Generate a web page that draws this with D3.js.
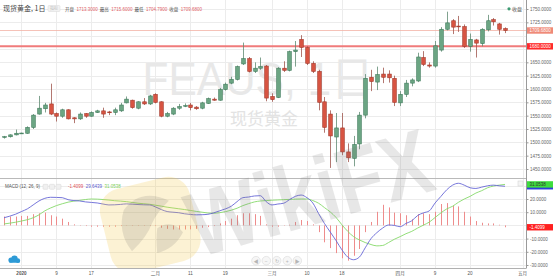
<!DOCTYPE html>
<html><head><meta charset="utf-8">
<script src="https://cdn.jsdelivr.net/npm/d3@7/dist/d3.min.js"></script>
<style>
html,body{margin:0;padding:0;background:#fff;overflow:hidden;}
svg{display:block;font-family:"Liberation Sans",Arial,"Noto Sans CJK SC",sans-serif;}
</style>
</head><body>
<svg id="chart" width="553" height="278"></svg>
<script>
// ---------------- data ----------------
const title = "现货黄金, 1日";
const watermark1 = "FEAUS, 1日";
const watermark2 = "现货黄金";
const dates = [
"2019-12-27","2019-12-30","2019-12-31",
"2020-01-01","2020-01-02","2020-01-03","2020-01-06","2020-01-07","2020-01-08","2020-01-09","2020-01-10",
"2020-01-13","2020-01-14","2020-01-15","2020-01-16","2020-01-17","2020-01-20","2020-01-21","2020-01-22",
"2020-01-23","2020-01-24","2020-01-27","2020-01-28","2020-01-29","2020-01-30","2020-01-31",
"2020-02-03","2020-02-04","2020-02-05","2020-02-06","2020-02-07","2020-02-10","2020-02-11","2020-02-12",
"2020-02-13","2020-02-14","2020-02-17","2020-02-18","2020-02-19","2020-02-20","2020-02-21","2020-02-24",
"2020-02-25","2020-02-26","2020-02-27","2020-02-28",
"2020-03-02","2020-03-03","2020-03-04","2020-03-05","2020-03-06","2020-03-09","2020-03-10","2020-03-11",
"2020-03-12","2020-03-13","2020-03-16","2020-03-17","2020-03-18","2020-03-19","2020-03-20","2020-03-23",
"2020-03-24","2020-03-25","2020-03-26","2020-03-27","2020-03-30","2020-03-31",
"2020-04-01","2020-04-02","2020-04-03","2020-04-06","2020-04-07","2020-04-08","2020-04-09","2020-04-13",
"2020-04-14","2020-04-15","2020-04-16","2020-04-17","2020-04-20","2020-04-21","2020-04-22","2020-04-23",
"2020-04-24","2020-04-27","2020-04-28"];
const futureDates = ["2020-04-29","2020-04-30","2020-05-01"];

const open = [1510,1510.5,1514,1517,1517,1528,1553,1563,1572,1554,
1549,1561,1546,1544,1554,1549,1556,1559,1557,1556,
1559,1574,1579,1564,1576,1572,1590,1576,1549,1553,
1564,1568,1570,1566,1564,1573,1581,1579,1599,1611,
1618,1647,1657,1633,1639,1643,1586,1584,1639,1635,
1670,1693,1678,1648,1633,1576,1553,1510,1527,1482,
1470,1497,1551,1622,1613,1628,1628,1620,1574,1590,
1611,1615,1659,1645,1643,1673,1712,1728,1718,1717,
1680,1692,1685,1711,1730,1722,1713.3];
const high = [1512,1515,1524,1518,1530,1553,1587,1574,1610,1556,
1563,1562,1547,1556,1555,1558,1561,1565,1559,1565,
1574,1586,1580,1577,1583,1589,1592,1577,1557,1566,
1572,1573,1574,1568,1576,1584,1584,1602,1612,1623,
1644,1687,1660,1650,1659,1645,1592,1641,1652,1672,
1690,1701,1680,1652,1636,1585,1560,1555,1555,1498,
1512,1557,1628,1636,1642,1640,1635,1625,1596,1617,
1620,1668,1671,1650,1690,1716,1745,1731,1737,1721,
1704,1694,1714,1739,1733,1724,1715.6];
const low = [1507,1509,1513,1516.5,1516,1525,1552,1556,1551,1539,
1546,1543,1536,1542,1546,1548,1555,1546,1551,1551,
1557,1573,1563,1562,1570,1570,1573,1547,1547,1551,
1561,1566,1560,1561,1562,1572,1578,1578,1597,1609,
1616,1645,1631,1630,1636,1577,1576,1583,1632,1633,
1642,1660,1645,1630,1560,1518,1452,1463,1476,1463,
1455,1487,1545,1596,1598,1611,1612,1568,1568,1585,
1605,1613,1643,1640,1640,1670,1710,1703,1707,1677,
1670,1659,1680,1708,1719,1702,1704.79];
const close = [1510.6,1514,1517,1517.4,1528,1551,1564,1570,1553,1549,
1561,1544,1544,1553,1549,1556,1559,1553,1556.5,1561,
1570,1581,1565,1576,1572,1587,1575,1549,1554,1564,
1567,1569,1565,1563,1574,1582,1579,1599,1609,1618,
1642,1657,1633,1639,1642,1583,1580,1639,1635,1670,
1673,1678,1648,1633,1575,1528,1512,1527,1482,1471,
1496,1551,1620,1614,1627,1622,1621,1575,1590,1611,
1617,1660,1646,1643,1681,1712,1724,1716,1717,1680,
1693,1686,1712,1728,1726,1712,1709.68];

const dif = [5.8,7.0,8.5,10.5,12.5,15.5,18.5,20.5,21.3,21.2,
21.0,19.5,18.8,18.5,17.8,17.4,17.0,16.2,15.5,15.6,
15.9,16.3,16.1,15.8,15.6,15.5,14.0,12.0,10.5,10.0,
9.6,8.8,8.3,8.0,8.1,8.4,9.5,11.0,12.5,14.5,
18.0,21.0,21.5,22.3,22.5,18.0,15.5,16.2,16.8,19.5,
22.0,23.0,21.0,17.0,9.0,1.5,-5.0,-11.5,-18.5,-24.0,
-26.0,-24.0,-17.0,-10.0,-5.5,-2.0,0.3,0.0,-1.0,1.5,
3.5,7.5,9.5,11.0,17.0,22.0,27.0,30.5,31.9,30.5,
28.5,28.0,29.0,30.0,30.5,30.0,29.6439];
const dea = [1.1,1.7,2.4,3.3,4.3,5.8,8.0,11.0,13.2,15.0,
16.4,17.6,18.4,19.0,19.6,20.0,19.9,19.6,19.2,18.7,
18.4,18.0,17.4,16.8,16.4,16.0,15.3,14.6,13.8,13.2,
12.6,12.0,11.3,10.6,10.0,9.4,9.2,9.6,10.4,11.5,
13.0,15.0,16.5,17.8,18.5,18.8,19.1,19.3,19.5,19.7,
19.9,20.0,20.0,18.8,16.8,13.5,10.2,6.0,0.5,-4.5,
-8.5,-11.0,-13.0,-14.5,-15.5,-15.2,-13.0,-10.5,-8.5,-6.3,
-4.5,-2.0,0.2,2.5,6.0,9.5,12.5,14.5,17.5,20.0,
22.0,24.5,26.3,28.5,29.8,30.5,31.0538];
const hist = [6.7,6.7,6.7,7.2,7.2,8.5,9.2,9.7,7.7,6.7,
5.1,2.6,0.8,0.3,-0.5,-1.0,-1.0,-1.0,-1.0,-1.0,
-0.5,0.2,0.3,0.3,0.3,0.3,-0.5,-1.8,-2.6,-3.1,
-3.1,-3.1,-3.0,-2.6,-1.8,-1.3,-0.5,1.5,3.3,5.1,
7.7,9.2,9.2,8.5,7.2,0.8,-1.0,-1.0,0.3,0.5,
2.6,4.1,3.3,0.8,-5.1,-12.8,-17.2,-21.0,-24.9,-26.7,
-23.0,-17.9,-5.1,2.6,10.3,15.6,13.6,9.7,9.2,7.7,
4.6,8.5,9.2,8.5,10.3,16.2,16.9,14.9,14.4,10.3,
6.7,3.3,2.0,1.5,1.5,0.5,-1.4099];

const priceTicks = [1450,1475,1500,1525,1550,1575,1600,1625,1650,1675,1700,1725,1750];
const macdTicks = [-30,-20,-10,0,10,20,30];
const xTickDates = ["2020-01-01","2020-01-09","2020-01-17","2020-02-03","2020-02-11","2020-02-19",
"2020-03-02","2020-03-10","2020-03-18","2020-04-01","2020-04-09","2020-04-20","2020-05-01"];
const xTickLabels = ["2020","9","17","二月","11","19","三月","10","18","四月","9","20","五月"];
const hLevel = 1680;
const ohlcLabels = ["开盘","最高","最低","收盘"];
const macdTitle = "MACD (12, 26, 9)";

// ---------------- layout ----------------
const W = 553, H = 278;
const plotR = 526, sepY = 178, botY = 268;
const svg = d3.select("#chart");
const allDates = dates.concat(futureDates);
const x = d3.scalePoint().domain(allDates).range([4, 522.5]);
const y = d3.scaleLinear().domain([1450, 1750]).range([169, 9]);
const ym = d3.scaleLinear().domain([-30, 20]).range([265, 199]);
const last = dates.length - 1;
const upFill = "#6ba583", upLine = "#3e7a5a", dnFill = "#d75442", dnLine = "#a2392b";

svg.append("rect").attr("width", W).attr("height", H).attr("fill", "#fff");

const defs = svg.append("defs");
defs.append("clipPath").attr("id","cm").append("rect").attr("x",0).attr("y",0).attr("width",plotR).attr("height",sepY);
defs.append("clipPath").attr("id","cd").append("rect").attr("x",0).attr("y",sepY).attr("width",plotR).attr("height",botY-sepY);
defs.append("clipPath").attr("id","call").append("rect").attr("x",0).attr("y",0).attr("width",plotR).attr("height",botY);

// grid
const grid = svg.append("g").attr("stroke", "#ececec").attr("stroke-width", 1);
xTickDates.forEach(d => {
  const px = Math.round(x(d)) + 0.5;
  grid.append("line").attr("x1", px).attr("x2", px).attr("y1", 0).attr("y2", botY);
});
priceTicks.forEach(t => {
  const py = Math.round(y(t)) + 0.5;
  grid.append("line").attr("x1", 0).attr("x2", plotR).attr("y1", py).attr("y2", py);
});
macdTicks.forEach(t => {
  const py = Math.round(ym(t)) + 0.5;
  if (py > sepY && py < botY) grid.append("line").attr("x1", 0).attr("x2", plotR).attr("y1", py).attr("y2", py);
});

// watermarks (text)
const wm = svg.append("g").attr("clip-path","url(#cm)");
wm.append("text").attr("x", 258).attr("y", 95).attr("text-anchor","middle")
  .attr("font-size", 46).attr("fill", "#e8e8e8").attr("textLength", 231).attr("lengthAdjust","spacingAndGlyphs")
  .text(watermark1);
wm.append("text").attr("x", 264).attr("y", 125).attr("text-anchor","middle")
  .attr("font-family","'Noto Sans CJK SC',sans-serif")
  .attr("font-size", 17).attr("fill", "#e3e3e3").text(watermark2);

// horizontal lines
const mainG = svg.append("g").attr("clip-path","url(#cm)");
mainG.append("line").attr("x1",0).attr("x2",plotR).attr("y1",y(close[last])).attr("y2",y(close[last]))
  .attr("stroke","#f2b2a6").attr("stroke-width",0.8);
mainG.append("line").attr("x1",0).attr("x2",plotR).attr("y1",y(hLevel)).attr("y2",y(hLevel))
  .attr("stroke","#f07b7b").attr("stroke-width",2);

// candles
const cg = mainG.append("g");
dates.forEach((d, i) => {
  const up = close[i] >= open[i];
  const cx = Math.round(x(d)) + 0.5;
  cg.append("line").attr("x1",cx).attr("x2",cx).attr("y1",y(high[i])).attr("y2",y(low[i]))
    .attr("stroke", up ? "#5f8a72" : "#a0564c").attr("stroke-width",0.8);
  const top = y(Math.max(open[i], close[i])), bot = y(Math.min(open[i], close[i]));
  cg.append("rect").attr("x", cx - 1.8).attr("y", top).attr("width", 3.6).attr("height", Math.max(0.8, bot - top))
    .attr("fill", up ? upFill : dnFill).attr("stroke", up ? upLine : dnLine).attr("stroke-width", 0.6);
});

// header
const hdr = svg.append("g");
hdr.append("text").attr("x", 3).attr("y", 11).attr("font-size", 7).attr("fill", "#444")
  .attr("font-family","'Noto Sans CJK SC','Liberation Sans',sans-serif").text(title);
hdr.append("rect").attr("x", 48).attr("y", 5.5).attr("width", 12).attr("height", 6).attr("rx",1)
  .attr("fill", "#f2f2f2").attr("stroke","#d8d8d8").attr("stroke-width",0.5);
hdr.append("text").attr("x", 54).attr("y", 10).attr("text-anchor","middle").attr("font-size",4).attr("fill","#bbb").text("指标");
const vals = [open[last], high[last], low[last], close[last]];
let hx = 65;
ohlcLabels.forEach((lab, k) => {
  const t1 = hdr.append("text").attr("x", hx).attr("y", 10.5).attr("font-size", 4.5).attr("fill", "#555")
    .attr("font-family","'Noto Sans CJK SC',sans-serif").text(lab);
  hx += t1.node().getComputedTextLength() + 2.5;
  const t2 = hdr.append("text").attr("x", hx).attr("y", 10.5).attr("font-size", 4.5).attr("fill", "#e0646a")
    .text(vals[k].toFixed(4));
  hx += t2.node().getComputedTextLength() + 2;
});

// legend
svg.append("circle").attr("cx", 509).attr("cy", 8.8).attr("r", 1.6).attr("fill", "#3c9a72");
svg.append("text").attr("x", 512).attr("y", 10.6).attr("font-size", 5).attr("fill", "#555")
  .attr("font-family","'Noto Sans CJK SC',sans-serif").text("收盘");

// MACD panel
const md = svg.append("g").attr("clip-path","url(#cd)");
dates.forEach((d, i) => {
  const cx = Math.round(x(d)) + 0.5;
  md.append("line").attr("x1",cx).attr("x2",cx).attr("y1",ym(0)).attr("y2",ym(hist[i]))
    .attr("stroke","#ee8c8c").attr("stroke-width",1);
});
const lineGen = arr => d3.line().x((d,i)=>x(dates[i])).y(d=>ym(d)).curve(d3.curveMonotoneX)(arr);
md.append("path").attr("d", lineGen(dea)).attr("fill","none").attr("stroke","#86d96a").attr("stroke-width",0.9);
md.append("path").attr("d", lineGen(dif)).attr("fill","none").attr("stroke","#6767d6").attr("stroke-width",0.9);

// MACD header
const mh = svg.append("g");
mh.append("text").attr("x", 5).attr("y", 188).attr("font-size", 4.5).attr("fill", "#555").text(macdTitle);
[43, 49.5, 56].forEach(px => mh.append("rect").attr("x", px).attr("y", 184.3).attr("width", 5).attr("height", 5)
  .attr("rx", 0.8).attr("fill","#f0f0f0").attr("stroke","#d6d6d6").attr("stroke-width",0.5));
let mx = 68;
[[hist[last],"#e0505a"],[dif[last],"#6060d0"],[dea[last],"#7ccf5a"]].forEach(([v,c]) => {
  const t = mh.append("text").attr("x", mx).attr("y", 188).attr("font-size", 4.5).attr("fill", c).text(v.toFixed(4));
  mx += t.node().getComputedTextLength() + 2.5;
});
svg.append("rect").attr("x", 518).attr("y", 181).attr("width", 5).attr("height", 5)
  .attr("fill","#f4f4f4").attr("stroke","#d0d0d0").attr("stroke-width",0.5);

// nav buttons
const navSym = ["◀","−","↻","+","▶"];
[256, 266.3, 276.7, 287.3, 297.3].forEach((cx, k) => {
  svg.append("circle").attr("cx", cx).attr("cy", 260.7).attr("r", 4.3)
    .attr("fill","#f6f6f6").attr("stroke","#d9d9d9").attr("stroke-width",0.6);
  svg.append("text").attr("x", cx).attr("y", 262.5).attr("text-anchor","middle")
    .attr("font-size", 5).attr("fill","#b5b5b5").text(navSym[k]);
});

// small logo bottom-left
const logo = svg.append("g").attr("fill","#2d9ad6");
logo.append("circle").attr("cx", 11).attr("cy", 260).attr("r", 2.6);
logo.append("circle").attr("cx", 14.5).attr("cy", 258.8).attr("r", 3.2);
logo.append("circle").attr("cx", 17.8).attr("cy", 260.6).attr("r", 2.3);
logo.append("rect").attr("x", 9).attr("y", 260).attr("width", 11).attr("height", 2.8).attr("rx",1.2);

// separator and axes
svg.append("line").attr("x1",0).attr("x2",plotR).attr("y1",sepY+0.5).attr("y2",sepY+0.5).attr("stroke","#b9b9b9").attr("stroke-width",1.2);
svg.append("line").attr("x1",0).attr("x2",plotR).attr("y1",botY+0.5).attr("y2",botY+0.5).attr("stroke","#b0b0b0");
svg.append("line").attr("x1",plotR+0.5).attr("x2",plotR+0.5).attr("y1",0).attr("y2",botY+0.5).attr("stroke","#9a9a9a");

// right axes
const hideNear = (v, arr, sc) => arr.some(a => Math.abs(sc(v) - sc(a)) < 6);
const pTicks = priceTicks.filter(t => !hideNear(t, [close[last], hLevel], y));
const pAxis = svg.append("g").attr("transform", `translate(${plotR+0.5},0)`)
  .call(d3.axisRight(y).tickValues(pTicks).tickFormat(d => d.toFixed(4)).tickSize(2).tickPadding(1.5));
const mTicks = macdTicks.filter(t => !hideNear(t, [dea[last], hist[last]], ym));
const mAxis = svg.append("g").attr("transform", `translate(${plotR+0.5},0)`)
  .call(d3.axisRight(ym).tickValues(mTicks).tickFormat(d => d.toFixed(4)).tickSize(2).tickPadding(1.5));
[pAxis, mAxis].forEach(a => {
  a.select(".domain").remove();
  a.selectAll("line").attr("stroke","#999");
  a.selectAll("text").attr("font-size", 4.5).attr("fill","#666").attr("font-family","'Liberation Sans',Arial,sans-serif");
});

// value boxes
function box(v, sc, fill, tcolor, h) {
  const cy = sc(v);
  svg.append("rect").attr("x", plotR+1).attr("y", cy-h/2).attr("width", 26).attr("height", h).attr("fill", fill);
  svg.append("text").attr("x", plotR+3.5).attr("y", cy+1.6).attr("font-size", 4.5).attr("fill", tcolor).text(v.toFixed(4));
}
box(close[last], y, "#ef8a78", "#fff", 6.4);
box(hLevel, y, "#ff2a2a", "#fff", 6.4);
svg.append("rect").attr("x", plotR+1).attr("y", ym(dif[last])-3.2).attr("width", 26).attr("height", 6.4).attr("fill", "#2f3fd8");
box(dea[last], ym, "#3ddc3d", "#333", 6.4);
box(hist[last], ym, "#ff2020", "#fff", 6.4);

// x axis labels
const xl = svg.append("g");
xTickDates.forEach((d, k) => {
  xl.append("text").attr("x", x(d)).attr("y", 275).attr("text-anchor","middle")
    .attr("font-size", 4.6).attr("fill", "#555")
    .attr("font-weight", k === 0 ? "bold" : "normal")
    .attr("font-family","'Liberation Sans','Noto Sans CJK SC',sans-serif")
    .text(xTickLabels[k]);
});

// WikiFX overlay watermark
const ov = svg.append("g").attr("pointer-events","none").attr("clip-path","url(#call)");
const ic = ov.append("g").attr("transform","translate(150,224) rotate(-14)");
ic.append("rect").attr("x",-46).attr("y",-42).attr("width",92).attr("height",86).attr("rx",22)
  .attr("fill","#f3c94a").attr("opacity",0.24);
ic.append("path").attr("d","M-22,-20 Q0,-38 24,-18 Q10,-10 2,0 Q-6,12 -24,22 Q-34,0 -22,-20 Z")
  .attr("fill","#555").attr("opacity",0.14);
ic.append("path").attr("d","M6,6 Q22,0 30,16 Q18,30 0,30 Q2,16 6,6 Z")
  .attr("fill","#555").attr("opacity",0.14);
ov.append("text").attr("transform","translate(198,258) rotate(-16)")
  .attr("font-size", 92).attr("font-weight","bold").attr("fill","#777").attr("opacity",0.17)
  .attr("textLength", 250).attr("lengthAdjust","spacingAndGlyphs")
  .text("WikiFX");
</script>
</body></html>
